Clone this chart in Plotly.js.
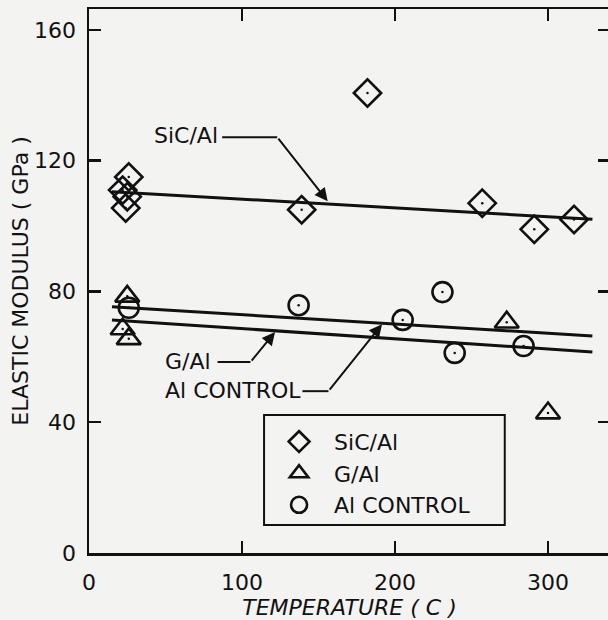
<!DOCTYPE html>
<html>
<head>
<meta charset="utf-8">
<script src="https://cdn.plot.ly/plotly-3.0.1.min.js"></script>
<style>
html,body{margin:0;padding:0;background:#f3f3f1;overflow:hidden;}
#chart{width:612px;height:620px;}
</style>
</head>
<body>
<div id="chart"></div>
<script>
// ---- data ----
const seriesNames = ["SiC/Al", "G/Al", "Al CONTROL"];

const sicTemp = [26, 22, 25, 24, 139, 182, 257, 291, 317];
const sicModulus = [115, 111, 109, 105.5, 105, 140.7, 107, 99, 102];

const gTemp = [25, 22, 26, 273, 300];
const gModulus = [78.5, 68.5, 65.5, 70.6, 42.8];

const alTemp = [26, 137, 205, 231, 239, 284];
const alModulus = [75, 75.8, 71.3, 79.8, 61.2, 63.3];

// fitted lines (end points)
const fitTemp = [15, 329];
const sicFit = [110.5, 102.1];
const alFit = [75.3, 66.4];
const gFit = [71.3, 61.5];

const xTicks = [0, 100, 200, 300];
const yTicks = [0, 40, 80, 120, 160];

// ---- drawing ----
const INK = '#111111';
const FONT = 'DejaVu Sans, Liberation Sans, sans-serif';

function pts(x, y, sym, name, size) {
  return {
    x: x, y: y, type: 'scatter', mode: 'markers', name: name,
    marker: {symbol: sym, size: size, color: INK, line: {color: INK, width: 2.6}},
    hoverinfo: 'x+y'
  };
}
function dots(x, y) {
  return {
    x: x, y: y, type: 'scatter', mode: 'markers', showlegend: false,
    marker: {symbol: 'circle', size: 2.5, color: INK}, hoverinfo: 'skip'
  };
}
function fit(y) {
  return {
    x: fitTemp, y: y, type: 'scatter', mode: 'lines', showlegend: false,
    line: {color: INK, width: 3}, hoverinfo: 'skip'
  };
}

const traces = [
  fit(sicFit), fit(alFit), fit(gFit),
  pts(sicTemp, sicModulus, 'diamond-open', seriesNames[0], 21),
  pts(gTemp, gModulus, 'triangle-up-open', seriesNames[1], 21),
  pts(alTemp, alModulus, 'circle-open', seriesNames[2], 20),
  dots(sicTemp, sicModulus), dots(gTemp, gModulus), dots(alTemp, alModulus)
];

function leader(x0, x1, y) {
  return {type: 'line', xref: 'x', yref: 'y', x0: x0, x1: x1, y0: y, y1: y,
          line: {color: INK, width: 2}};
}
function arrow(tx, ty, fx, fy) {
  return {x: tx, y: ty, xref: 'x', yref: 'y', ax: fx, ay: fy, axref: 'x', ayref: 'y',
          text: '', showarrow: true, arrowhead: 2, arrowsize: 1.3, arrowwidth: 2,
          arrowcolor: INK, standoff: 0, startstandoff: 0};
}
function label(txt, x, y) {
  return {x: x, y: y, xref: 'x', yref: 'y', text: txt, showarrow: false,
          xanchor: 'left', yanchor: 'middle', font: {family: FONT, size: 22, color: INK}};
}

const axisCommon = {
  showline: true, linecolor: INK, linewidth: 2.5, mirror: 'ticks',
  ticks: 'inside', ticklen: 12, tickwidth: 2.5, tickcolor: INK,
  showgrid: false, zeroline: false, autorange: false,
  tickfont: {family: FONT, size: 22, color: INK}
};

const layout = {
  width: 612, height: 620,
  margin: {l: 89, r: 2, t: 9, b: 67},
  paper_bgcolor: '#f3f3f1', plot_bgcolor: '#f3f3f1',
  showlegend: true,
  legend: {
    x: 0.336, y: 0.243, xanchor: 'left', yanchor: 'top',
    bgcolor: 'rgba(0,0,0,0)', borderwidth: 0,
    font: {family: FONT, size: 22, color: INK},
    itemsizing: 'trace', tracegroupgap: 0,
    itemwidth: 60
  },
  xaxis: Object.assign({}, axisCommon, {
    range: [0, 340.5], tickvals: xTicks, ticklabelstandoff: 8,
    title: {text: 'TEMPERATURE ( C )', standoff: 6,
            font: {family: 'DejaVu Sans, sans-serif', size: 22, color: INK, style: 'italic'}}
  }),
  yaxis: Object.assign({}, axisCommon, {
    range: [0, 166.4], tickvals: yTicks, ticklabelstandoff: 6,
    title: {text: 'ELASTIC MODULUS ( GPa )', standoff: 0,
            font: {family: FONT, size: 22, color: INK}}
  }),
  shapes: [
    leader(87, 123, 127.2),
    leader(84, 105.5, 58.4),
    leader(139.5, 156.5, 49.5),
    {type: 'rect', xref: 'paper', yref: 'paper', x0: 0.336, x1: 0.798, y0: 0.0515, y1: 0.2537,
     fillcolor: '#f3f3f1', line: {color: INK, width: 2}, layer: 'above'}
  ],
  annotations: [
    label('SiC/Al', 41, 127.8),
    label('G/Al', 48.4, 58.6),
    label('Al CONTROL', 48.4, 49.7),
    arrow(156, 107.6, 123, 127.2),
    arrow(121.6, 67.6, 105.5, 58.4),
    arrow(191.5, 70.0, 156.5, 49.5)
  ]
};

Plotly.newPlot('chart', traces, layout, {displayModeBar: false, staticPlot: true});
</script>
</body>
</html>
